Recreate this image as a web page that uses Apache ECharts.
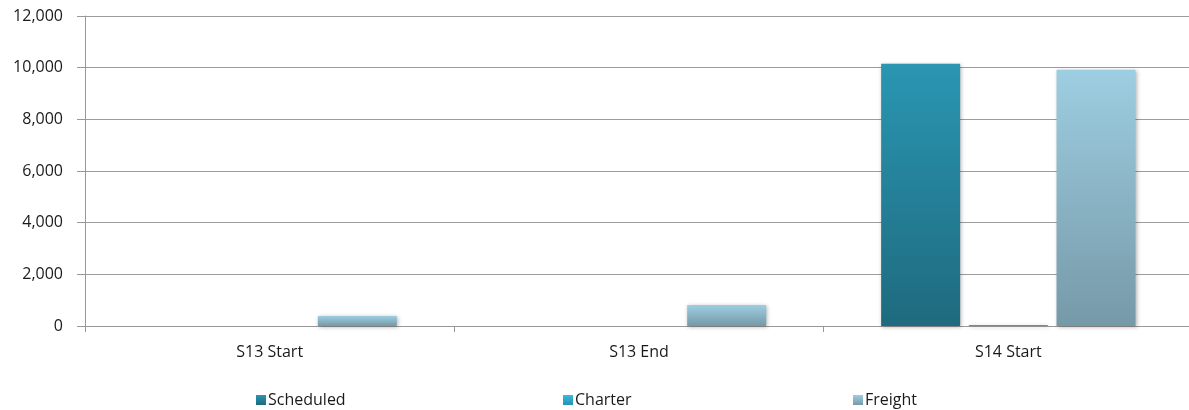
<!DOCTYPE html>
<html>
<head>
<meta charset="utf-8">
<script src="https://cdn.jsdelivr.net/npm/echarts@6/dist/echarts.min.js"></script>
<style>
html,body{margin:0;padding:0;background:#fff;overflow:hidden;}
#chart{width:1200px;height:410px;}
</style>
</head>
<body>
<div id="chart"></div>
<script>
const categories = ['S13 Start', 'S13 End', 'S14 Start'];
const seriesNames = ['Scheduled', 'Charter', 'Freight'];
const scheduled = [0, 0, 10150];
const charter = [0, 0, 40];
const freight = [390, 810, 9920];
const yTicks = [0, 2000, 4000, 6000, 8000, 10000, 12000];

const chart = echarts.init(document.getElementById('chart'));
const FONT = 'Open Sans';
function grad(top, bottom) {
  return new echarts.graphic.LinearGradient(0, 0, 0, 1, [
    {offset: 0, color: top}, {offset: 1, color: bottom}
  ]);
}
const colors = [
  grad('#2a96b2', '#1e6a7e'),
  grad('#3abbe0', '#2690b0'),
  grad('#9dcee1', '#7699a8')
];
const values = [scheduled, charter, freight];
const legendLeft = [256, 563, 853];

chart.setOption({
  animation: false,
  backgroundColor: '#ffffff',
  grid: {left: 85, right: 7, top: 16, bottom: 84, containLabel: false},
  legend: seriesNames.map((n, i) => ({
    data: [n],
    left: legendLeft[i],
    top: 392,
    padding: 0,
    icon: 'rect',
    itemWidth: 10,
    itemHeight: 10,
    itemGap: 0,
    textStyle: {fontFamily: FONT, fontSize: 16, color: '#1a1a1a', padding: [0, 0, 0, -3]}
  })),
  xAxis: {
    type: 'category',
    data: categories,
    axisLine: {lineStyle: {color: '#999999', width: 1}},
    axisTick: {show: true, length: 6, lineStyle: {color: '#999999'}},
    axisLabel: {fontFamily: FONT, fontSize: 16, color: '#1a1a1a', margin: 18}
  },
  yAxis: {
    type: 'value',
    min: yTicks[0],
    max: yTicks[yTicks.length - 1],
    interval: 2000,
    axisLine: {show: true, lineStyle: {color: '#999999', width: 1}},
    axisTick: {show: true, length: 8, lineStyle: {color: '#999999'}},
    splitLine: {lineStyle: {color: '#9c9c9c', width: 1}},
    axisLabel: {
      fontFamily: FONT, fontSize: 16, color: '#1a1a1a', margin: 22,
      formatter: v => v.toLocaleString('en-US')
    }
  },
  series: seriesNames.map((n, i) => ({
    name: n,
    type: 'bar',
    data: values[i],
    barWidth: 79,
    barGap: '11%',
    itemStyle: {
      color: colors[i],
      shadowBlur: 4,
      shadowColor: 'rgba(0,0,0,0.3)',
      shadowOffsetX: 1,
      shadowOffsetY: 1
    }
  }))
});
</script>
</body>
</html>
